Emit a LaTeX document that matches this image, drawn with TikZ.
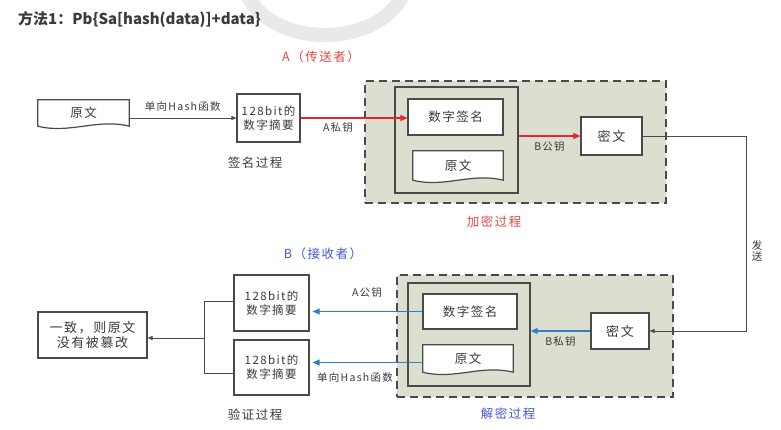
\documentclass[tikz,border=0pt]{standalone}
\usepackage{fontspec}
\setmainfont{Noto Sans CJK SC}[LetterSpace=12]
\newfontfamily\titlefont{Noto Sans CJK SC}
\usetikzlibrary{arrows.meta,calc}
\definecolor{bgc}{HTML}{DCDFCF}
\definecolor{ln}{HTML}{4A4A4A}
\definecolor{redA}{HTML}{E8232B}
\definecolor{blueB}{HTML}{2A83C6}
\definecolor{redT}{HTML}{E24848}
\definecolor{blueT}{HTML}{4058D8}
\definecolor{txt}{HTML}{3A3A3A}
\newcommand\docpath[1]{%
  \draw[docline] (#1.south west) -- (#1.north west) -- (#1.north east) -- (#1.south east)
    .. controls ($(#1.south east)!0.35!(#1.south west)+(0,-8)$) and ($(#1.south west)!0.35!(#1.south east)+(0,8)$) .. (#1.south west) -- cycle;}
\begin{document}
\begin{tikzpicture}[x=1pt,y=-1pt,
  box/.style={draw=ln, line width=1.2pt, fill=white, inner sep=0pt, align=center, text=txt, font=\fontsize{11.5}{14}\selectfont},
  docbox/.style={inner sep=0pt},
  docline/.style={draw=ln, line width=1.2pt, fill=white},
  doctxt/.style={inner sep=0pt, text=txt, font=\fontsize{12.5}{14}\selectfont},
  lbl/.style={text=txt, inner sep=0pt, font=\fontsize{10.5}{12}\selectfont},
  captxt/.style={inner sep=0pt, font=\fontsize{12.5}{14}\selectfont},
  region/.style={draw=ln, fill=bgc, dash pattern=on 8pt off 5pt, line width=1.4pt},
  cont/.style={draw=ln, fill=bgc, line width=1.3pt, inner sep=0pt},
  arr/.style={-{Triangle[length=5pt,width=4pt]}, line width=0.8pt, draw=ln},
  rarr/.style={-{Triangle[length=7pt,width=6pt]}, line width=1.1pt, draw=redA},
  barr/.style={-{Triangle[length=7pt,width=6pt]}, line width=1.1pt, draw=blueB},
]
\useasboundingbox (0,0) rectangle (781,430);
% watermark
\draw[gray!17, line width=14pt, line cap=round] (245,-10) .. controls (268,50) and (382,50) .. (405,-10);

% title
\node[anchor=west, inner sep=0pt, text=txt, font=\titlefont\bfseries\fontsize{15}{18}\selectfont] (title) at (18,20) {方法1：Pb\{Sa[hash(data)]+data\}};

% captions
\node[captxt, text=redT] (capA) at (321,57) {A（传送者）};
\node[captxt, text=blueT] (capB) at (323,254) {B（接收者）};
\node[captxt, text=txt] (capSign) at (255,163) {签名过程};
\node[captxt, text=redT] (capEnc) at (494,222) {加密过程};
\node[captxt, text=blueT] (capDec) at (508,414) {解密过程};
\node[captxt, text=txt] (capVer) at (255,415) {验证过程};

% ---------- top ----------
\node[region, minimum width=301pt, minimum height=122pt] (reg1) at (515.5,142) {};
\node[cont, minimum width=123pt, minimum height=106pt] (cont1) at (456.5,140) {};
\node[box, minimum width=95pt, minimum height=36pt, font=\fontsize{12.5}{14}\selectfont] (sig1) at (455.5,117) {数字签名};
\node[docbox, minimum width=90pt, minimum height=29pt] (doc2) at (458,165.5) {};
\docpath{doc2}
\node[doctxt] (doc2t) at (doc2) {原文};
\node[box, minimum width=61pt, minimum height=38pt, font=\fontsize{13}{14}\selectfont] (ct1) at (611.5,136) {密文};

\node[docbox, minimum width=91pt, minimum height=26pt] (doc1) at (83.5,113) {};
\docpath{doc1}
\node[doctxt] (doc1t) at (doc1) {原文};
\node[box, minimum width=63pt, minimum height=48pt] (hash1) at (268.5,118) {128bit的\\数字摘要};

\draw[arr] (doc1.east |- hash1.west) -- node[lbl, above=6pt] (l1) {单向Hash函数} (hash1.west);
\draw[rarr] (hash1.east) -- node[lbl, below=4pt, pos=0.35] (l2) {A私钥} (hash1.east -| sig1.west);
\draw[rarr] (cont1.east |- ct1.west) -- node[lbl, below=5pt] (l3) {B公钥} (ct1.west);

% ---------- bottom ----------
\node[region, minimum width=276pt, minimum height=122pt] (reg2) at (535,336) {};
\node[cont, minimum width=122pt, minimum height=103pt] (cont2) at (469,334.5) {};
\node[box, minimum width=94pt, minimum height=35pt, font=\fontsize{12.5}{14}\selectfont] (sig2) at (470,311.5) {数字签名};
\node[docbox, minimum width=90pt, minimum height=27pt] (doc3) at (468,358.5) {};
\docpath{doc3}
\node[doctxt] (doc3t) at (doc3) {原文};
\node[box, minimum width=58pt, minimum height=36pt, font=\fontsize{13}{14}\selectfont] (ct2) at (620,331) {密文};

\node[box, minimum width=75pt, minimum height=56pt] (hb1) at (271.5,303) {128bit的\\数字摘要};
\node[box, minimum width=75pt, minimum height=55pt] (hb2) at (271.5,367.5) {128bit的\\数字摘要};
\node[box, minimum width=109pt, minimum height=46pt, font=\fontsize{13}{15.5}\selectfont] (res) at (92.5,335) {一致，则原文\\没有被篡改};

% send
\coordinate (turn) at (746,0);
\draw[arr] (ct1.east) -- (ct1.east -| turn) -- (ct2.east -| turn) -- (ct2.east);
\node[lbl, align=center, font=\fontsize{10.5}{11.5}\selectfont] (send) at (757,251) {发\\送};

\draw[barr] (ct2.west) -- node[lbl, below=5pt] (l4) {B私钥} (ct2.west -| cont2.east);
\draw[barr, shorten >=3pt] (sig2.west) -- (sig2.west -| hb1.east);
\draw[barr, shorten >=3pt] ($(doc3.west)+(0,4)$) coordinate (d3w) -- (d3w -| hb2.east);
\node[lbl] (l5) at (367,293) {A公钥};
\node[lbl] (l6) at (355,378) {单向Hash函数};

% bracket
\coordinate (br) at (204,0);
\draw[ln, line width=0.8pt] ($(hb1.west)+(0,-2)$) coordinate (b1) -- (b1 -| br) -- ($(hb2.west -| br)+(0,6)$) coordinate (b2) -- (b2 -| hb2.west);
\draw[arr] ($(res.east -| br)+(0,3)$) coordinate (b3) -- (b3 -| res.east);
\end{tikzpicture}
\end{document}
